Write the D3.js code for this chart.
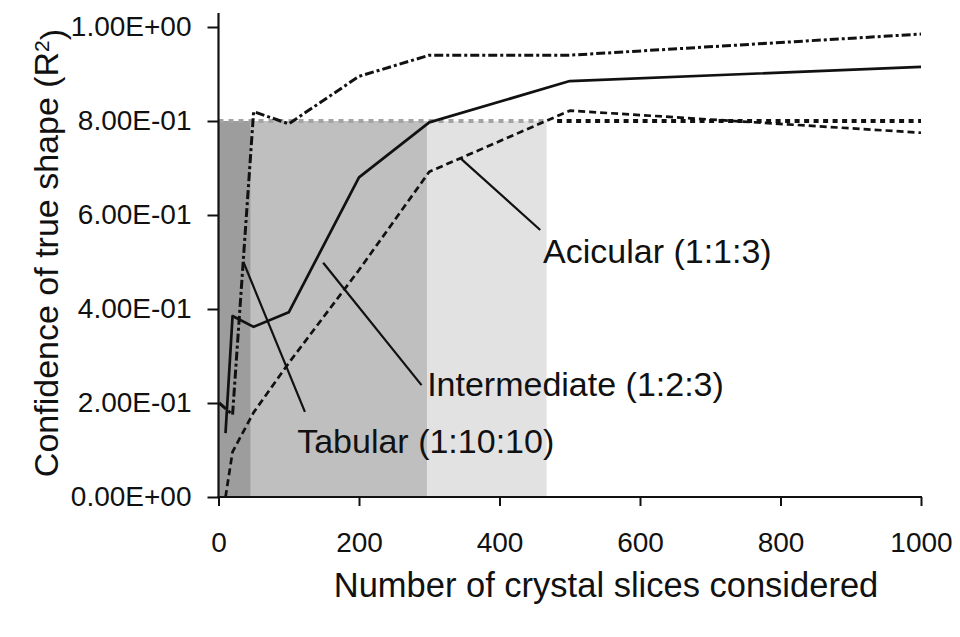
<!DOCTYPE html>
<html>
<head>
<meta charset="utf-8">
<script src="https://cdn.jsdelivr.net/npm/d3@7"></script>
<style>
  html, body { margin: 0; padding: 0; background: #fff; }
  svg { display: block; font-family: "Liberation Sans", Arial, sans-serif; }
</style>
</head>
<body>
<svg id="chart" width="960" height="637"></svg>
<script>
// Number of slices considered (x) and confidence R^2 (y) for each crystal habit
const tabularX = [1, 20, 50, 100, 200, 300, 500, 1000];
const tabularY = [0.20, 0.175, 0.82, 0.794, 0.895, 0.94, 0.94, 0.985];

const intermediateX = [10, 20, 50, 100, 200, 300, 500, 1000];
const intermediateY = [0.136, 0.385, 0.362, 0.393, 0.68, 0.797, 0.885, 0.915];

const acicularX = [10, 20, 50, 100, 200, 300, 500, 1000];
const acicularY = [0.0, 0.096, 0.18, 0.285, 0.483, 0.692, 0.822, 0.775];

// Slice counts at which each habit first reaches the confidence threshold
const threshold = 0.8;
const bandStarts = [0, 46, 297];
const bandEnds = [46, 297, 467];

const xTicks = [0, 200, 400, 600, 800, 1000];
const yTicks = [0, 0.2, 0.4, 0.6, 0.8, 1.0];

const seriesNames = ["Tabular (1:10:10)", "Intermediate (1:2:3)", "Acicular (1:1:3)"];

// ---- layout -------------------------------------------------------------
const svg = d3.select("#chart");
const x = d3.scaleLinear().domain([0, 1000]).range([218.5, 921]);
const y = d3.scaleLinear().domain([0, 1]).range([497, 27]);

const bandFills = ["#9d9d9d", "#bfbfbf", "#e2e2e2"];
const series = [
  { name: seriesNames[0], xs: tabularX, ys: tabularY, dash: "9,3,3,3", width: 3 },
  { name: seriesNames[1], xs: intermediateX, ys: intermediateY, dash: null, width: 2.7 },
  { name: seriesNames[2], xs: acicularX, ys: acicularY, dash: "7,4", width: 2.7 }
];

// Label placement for the callouts, in data units
const callouts = [
  { name: seriesNames[2], from: [345, 0.72], to: [458, 0.568], text: [462, 0.498] },
  { name: seriesNames[1], from: [149, 0.4985], to: [289, 0.238], text: [297, 0.215] },
  { name: seriesNames[0], from: [35.3, 0.5006], to: [123, 0.181], text: [112, 0.094] }
];

// ---- shaded regions up to the threshold ---------------------------------
svg.append("g").selectAll("rect")
  .data(bandStarts.map((s, i) => ({ s, e: bandEnds[i], fill: bandFills[i] })))
  .join("rect")
  .attr("x", d => x(d.s))
  .attr("width", d => x(d.e) - x(d.s))
  .attr("y", y(threshold))
  .attr("height", y(0) - y(threshold))
  .attr("fill", d => d.fill);

// Threshold line: light over the shaded part, dark beyond it
svg.append("line")
  .attr("x1", x(0)).attr("x2", x(bandEnds[2]))
  .attr("y1", y(threshold)).attr("y2", y(threshold))
  .attr("stroke", "#a3a3a3").attr("stroke-width", 4)
  .attr("stroke-dasharray", "5,5");
svg.append("line")
  .attr("x1", x(482)).attr("x2", x(1000))
  .attr("y1", y(threshold)).attr("y2", y(threshold))
  .attr("stroke", "#111").attr("stroke-width", 4)
  .attr("stroke-dasharray", "5,4.5");

// ---- series lines --------------------------------------------------------
const line = d3.line().x(d => x(d[0])).y(d => y(d[1]));
svg.append("g").selectAll("path")
  .data(series)
  .join("path")
  .attr("d", d => line(d.xs.map((v, i) => [v, d.ys[i]])))
  .attr("fill", "none")
  .attr("stroke", "#111")
  .attr("stroke-width", d => d.width)
  .attr("stroke-linejoin", "round")
  .attr("stroke-dasharray", d => d.dash);

// ---- axes ---------------------------------------------------------------
const fmtSci = v => {
  const [m, e] = v.toExponential(2).split("e");
  const sign = e[0] === "-" ? "-" : "+";
  const digits = e.replace(/[+-]/, "").padStart(2, "0");
  return m + "E" + sign + digits;
};

const yAxis = svg.append("g")
  .attr("transform", `translate(${x(0)},0)`)
  .call(d3.axisLeft(y).tickValues(yTicks).tickFormat(fmtSci).tickSize(11).tickSizeOuter(0).tickPadding(16));
const xAxis = svg.append("g")
  .attr("transform", `translate(0,${y(0)})`)
  .call(d3.axisBottom(x).tickValues(xTicks).tickFormat(d3.format("d")).tickSize(9).tickSizeOuter(0).tickPadding(26));

[yAxis, xAxis].forEach(g => {
  g.select(".domain").remove();
  g.selectAll(".tick line").attr("stroke", "#111").attr("stroke-width", 2);
  g.selectAll("text").attr("fill", "#111").style("font-size", "28px")
    .style("font-family", "'Liberation Sans', Arial, sans-serif");
});

// Axis lines
svg.append("line")
  .attr("x1", x(0)).attr("x2", x(0))
  .attr("y1", y(0) + 1).attr("y2", y(1.03))
  .attr("stroke", "#111").attr("stroke-width", 2.2);
svg.append("line")
  .attr("x1", x(0) - 1).attr("x2", x(1000) + 1)
  .attr("y1", y(0)).attr("y2", y(0))
  .attr("stroke", "#111").attr("stroke-width", 2.2);

// ---- callouts ------------------------------------------------------------
const cg = svg.append("g");
cg.selectAll("line")
  .data(callouts)
  .join("line")
  .attr("x1", d => x(d.from[0])).attr("y1", d => y(d.from[1]))
  .attr("x2", d => x(d.to[0])).attr("y2", d => y(d.to[1]))
  .attr("stroke", "#111").attr("stroke-width", 2.2);
cg.selectAll("text")
  .data(callouts)
  .join("text")
  .attr("x", d => x(d.text[0])).attr("y", d => y(d.text[1]))
  .attr("fill", "#111")
  .style("font-size", "34px")
  .text(d => d.name);

// ---- axis titles ---------------------------------------------------------
svg.append("text")
  .attr("x", 606).attr("y", 597)
  .attr("text-anchor", "middle")
  .attr("fill", "#111")
  .style("font-size", "34.5px")
  .text("Number of crystal slices considered");

const yTitle = svg.append("text")
  .attr("transform", "translate(58,253) rotate(-90)")
  .attr("text-anchor", "middle")
  .attr("fill", "#111")
  .style("font-size", "34px");
yTitle.append("tspan").text("Confidence of true shape (R");
yTitle.append("tspan").attr("dy", "-0.45em").style("font-size", "21px").text("2");
yTitle.append("tspan").attr("dy", "0.45em").text(")");
</script>
</body>
</html>
